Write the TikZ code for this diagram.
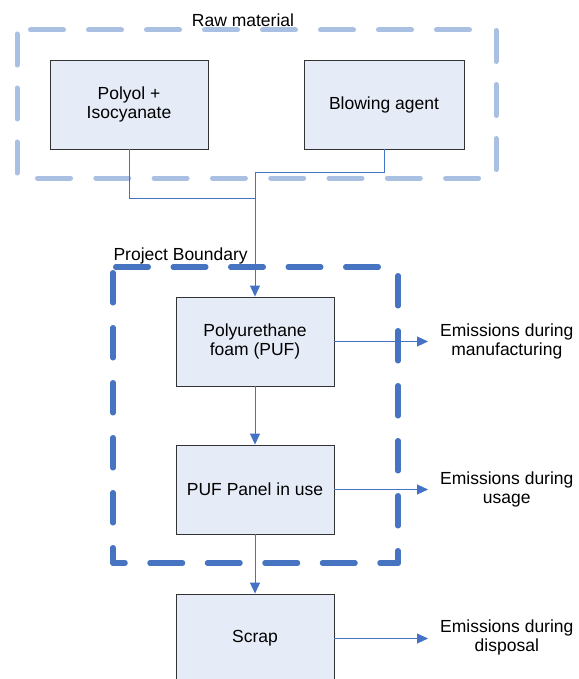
\documentclass[tikz,border=0pt]{standalone}
\usepackage{fontspec}
\setmainfont{Liberation Sans}
\usetikzlibrary{arrows.meta}
\definecolor{boxfill}{HTML}{E6ECF7}
\definecolor{boxline}{HTML}{333333}
\definecolor{conncol}{HTML}{4472C4}
\definecolor{rawdash}{HTML}{AAC0E2}
\definecolor{projdash}{HTML}{4674C1}
\tikzset{
  procbox/.style={draw=boxline, line width=0.9pt, fill=boxfill, minimum width=158pt, minimum height=89pt, align=center, inner sep=0pt, font=\fontsize{17.5}{19}\selectfont},
  conn/.style={draw=conncol, line width=0.9pt},
  arr/.style={conn, -{Triangle[length=11pt,width=10pt]}},
  lbl/.style={align=center, font=\fontsize{17.5}{19}\selectfont, inner ysep=0pt},
  emis/.style={lbl, inner xsep=12pt},
  rawbound/.style={draw=rawdash, line width=5pt, line cap=round},
  projbound/.style={draw=projdash, line width=5.5pt, line cap=round}
}
\begin{document}
\begin{tikzpicture}[x=1pt, y=-1pt]
\useasboundingbox (0,0) rectangle (578,679);
\clip (0,0) rectangle (578,679);
% raw material boundary
\coordinate (r1) at (17,30);
\coordinate (r2) at (496,30);
\coordinate (r3) at (496,178);
\coordinate (r4) at (17,178);
\coordinate (r2s) at (485,30);
\coordinate (r3s) at (485,178);
\draw[rawbound, dash pattern=on 33pt off 25pt, dash phase=44.5pt] (r1) -- (r2s);
\draw[rawbound, dash pattern=on 33pt off 25.3pt, dash phase=37.8pt] (r4) -- (r3s);
\draw[rawbound, dash pattern=on 31pt off 23pt, dash phase=50pt] (r1) -- (r4);
\draw[rawbound, dash pattern=on 31pt off 23pt, dash phase=53.5pt] (r2) -- (r3);
\node[lbl] (rawlbl) at (243,20) {Raw material};
% project boundary
\coordinate (p1) at (113,267);
\coordinate (p2) at (398,267);
\coordinate (p3) at (398,563);
\coordinate (p4) at (113,563);
\draw[projbound, dash pattern=on 32.5pt off 25pt, dash phase=54.75pt] (p1) -- (p2);
\draw[projbound, dash pattern=on 30pt off 25pt, dash phase=49.25pt] (p1) -- (p4);
\draw[projbound, dash pattern=on 30pt off 25pt, dash phase=46.25pt] (p2) -- (p3);
\draw[projbound, dash pattern=on 32.5pt off 25pt, dash phase=20.5pt] (p4) -- (p3);
\node[lbl, anchor=west] (projlbl) at (110,256) {Project Boundary};
% boxes
\node[procbox] (poly) at (129,104.5) {Polyol +\\Isocyanate};
\node[procbox, minimum width=160pt] (blow) at (384,104.5) {Blowing agent};
\node[procbox] (puf) at (255,341.5) {Polyurethane\\foam (PUF)};
\node[procbox] (panel) at (255,489.5) {PUF Panel in use};
\node[procbox] (scrap) at (255,638.5) {Scrap};
% emission labels
\node[emis, anchor=west] (em1) at (428,341) {Emissions during\\manufacturing};
\node[emis, anchor=west] (em2) at (428,489) {Emissions during\\usage};
\node[emis, anchor=west] (em3) at (428,637) {Emissions during\\disposal};
% connectors
\coordinate (j1) at (255,172);
\coordinate (j2) at (255,198);
\draw[conn] (poly.south) |- (j2);
\draw[arr] (blow.south) |- (j1) -- (puf.north);
\draw[arr] (puf.south) -- (panel.north);
\draw[arr] (panel.south) -- (scrap.north);
\draw[arr] (puf.east) -- (puf.east -| em1.west);
\draw[arr] (panel.east) -- (panel.east -| em2.west);
\draw[arr] (scrap.east) -- (scrap.east -| em3.west);
\end{tikzpicture}
\end{document}
